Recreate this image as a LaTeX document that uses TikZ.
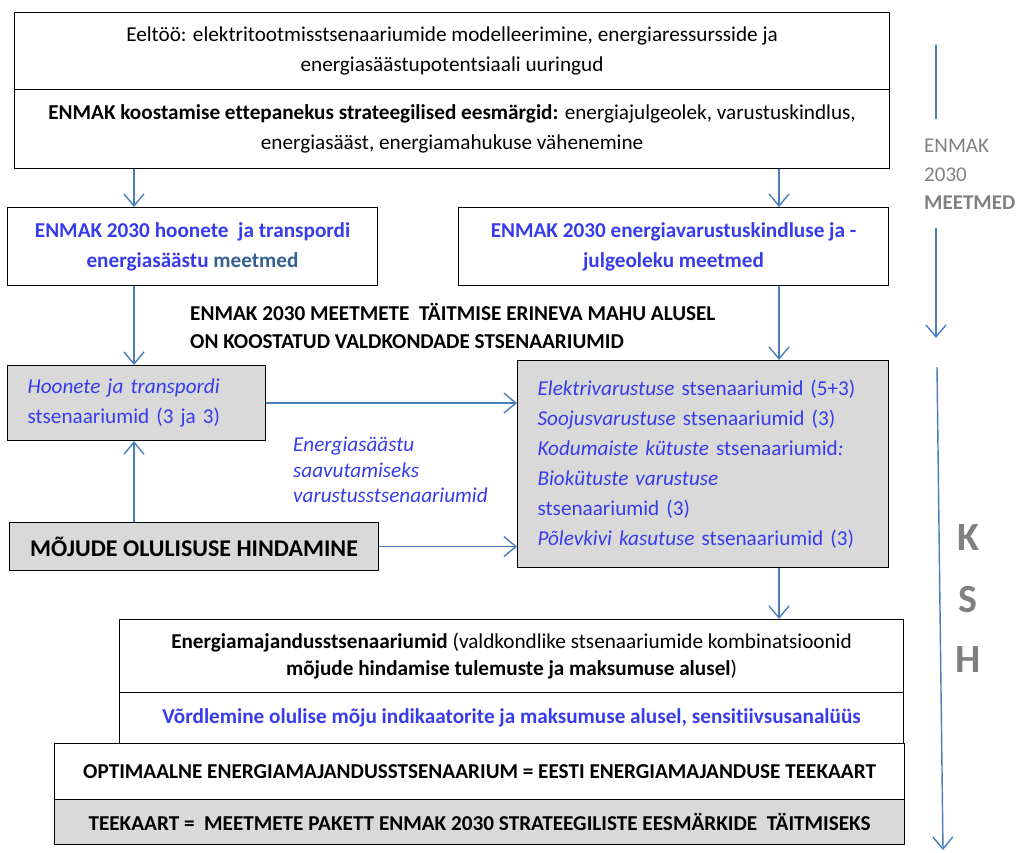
\documentclass[tikz,border=0pt]{standalone}
\usepackage{fontspec}
\setmainfont{Carlito}[Ligatures=NoCommon]
\usetikzlibrary{positioning}
\usetikzlibrary{arrows.meta}

\definecolor{txtblue}{RGB}{55,60,235}
\definecolor{steel}{RGB}{54,95,145}
\definecolor{arrowblue}{RGB}{74,126,187}
\definecolor{boxgrey}{RGB}{217,217,217}
\definecolor{txtgrey}{RGB}{128,128,128}

\newcommand{\bodysize}{\fontsize{21.2}{30}\selectfont}

\tikzset{
  box/.style={draw, line width=1.1pt, inner sep=0pt, anchor=north west, align=center, font=\bodysize},
  greybox/.style={box, fill=boxgrey},
  arr/.style={-{Straight Barb[length=12pt,width=20pt]}, line width=1.4pt, color=arrowblue},
  blueline/.style={-, line width=1.4pt, color=arrowblue},
  kshletter/.style={text=txtgrey, font=\fontsize{40}{40}\selectfont\bfseries, inner sep=0pt}
}

\begin{document}
\begin{tikzpicture}[x=1pt,y=-1pt]
\useasboundingbox (0,0) rectangle (1018,852);

\coordinate (lcol) at (134,0);
\coordinate (rcol) at (779,0);

\node[box, minimum width=875pt, minimum height=77pt] (prep) at (14,12) {Eeltöö: elektritootmisstsenaariumide modelleerimine, energiaressursside ja\\energiasäästupotentsiaali uuringud};
\node[box, minimum width=875pt, minimum height=79pt] (goals) at (14,89) {\textbf{ENMAK koostamise ettepanekus strateegilised eesmärgid:} energiajulgeolek, varustuskindlus,\\energiasääst, energiamahukuse vähenemine};

\node[box, minimum width=370pt, minimum height=78pt, text=txtblue, font=\bodysize\bfseries] (saveM) at (7,207) {ENMAK 2030 hoonete\ \ ja transpordi\\energiasäästu \textcolor{steel}{meetmed}};
\node[box, minimum width=430pt, minimum height=78pt, text=txtblue, font=\bodysize\bfseries] (supplyM) at (458,207) {ENMAK 2030 energiavarustuskindluse ja -\\julgeoleku meetmed};

\node[anchor=west, align=left, inner sep=0pt, font=\fontsize{21.2}{28}\selectfont\bfseries] (basis) at (190,326) {ENMAK 2030 MEETMETE\ \ TÄITMISE ERINEVA MAHU ALUSEL\\ON KOOSTATUD VALDKONDADE STSENAARIUMID};

\node[greybox, minimum height=75pt, text width=218pt, inner xsep=20pt, align=left, text=txtblue] (saveS) at (7,365) {\textit{Hoonete ja transpordi}\\stsenaariumid (3 ja 3)};
\node[greybox, minimum height=207pt, text width=331pt, inner xsep=20pt, align=left, text=txtblue] (supplyS) at (517,360) {\textit{Elektrivarustuse} stsenaariumid (5+3)\\\textit{Soojusvarustuse} stsenaariumid (3)\\\textit{Kodumaiste kütuste} stsenaariumid\textit{:}\\\textit{Biokütuste varustuse}\\stsenaariumid (3)\\\textit{Põlevkivi kasutuse} stsenaariumid (3)};

\node[anchor=west, align=left, inner sep=0pt, text=txtblue, font=\fontsize{21.2}{25.5}\selectfont\itshape] (viaText) at (293,470) {Energiasäästu\\saavutamiseks\\varustusstsenaariumid};

\node[greybox, minimum width=369pt, minimum height=48pt, font=\fontsize{24}{26}\selectfont\bfseries] (impact) at (9,522) {MÕJUDE OLULISUSE HINDAMINE};

\node[box, minimum width=784pt, minimum height=73pt, font=\fontsize{21.2}{27}\selectfont] (ecoS) at (119,619) {\textbf{Energiamajandusstsenaariumid} (valdkondlike stsenaariumide kombinatsioonid\\\textbf{mõjude hindamise tulemuste ja maksumuse alusel})};
\node[box, minimum width=784pt, minimum height=51pt, text=txtblue, font=\bodysize\bfseries] (compare) at (119,692) {Võrdlemine olulise mõju indikaatorite ja maksumuse alusel, sensitiivsusanalüüs};
\node[box, minimum width=850pt, minimum height=56pt, font=\bodysize\bfseries] (optimal) at (54,743) {OPTIMAALNE ENERGIAMAJANDUSSTSENAARIUM = EESTI ENERGIAMAJANDUSE TEEKAART};
\node[greybox, minimum width=850pt, minimum height=45pt, font=\bodysize\bfseries] (roadmap) at (54,799) {TEEKAART =\ \ MEETMETE PAKETT ENMAK 2030 STRATEEGILISTE EESMÄRKIDE\ \ TÄITMISEKS};

\draw[arr] (goals.south -| lcol) -- (saveM.north -| lcol);
\draw[arr] (goals.south -| rcol) -- (supplyM.north -| rcol);
\draw[arr] (saveM.south -| lcol) -- (saveS.north -| lcol);
\draw[arr] (supplyM.south -| rcol) -- (supplyS.north -| rcol);
\draw[arr] (saveS.east) -- (saveS.east -| supplyS.west);
\draw[arr] (impact.north -| lcol) -- (saveS.south -| lcol);
\draw[arr] (impact.east) -- (impact.east -| supplyS.west);
\draw[arr] (supplyS.south -| rcol) -- (ecoS.north -| rcol);

\coordinate (mTop) at (936,45);
\coordinate (mMid) at (936,119);
\draw[blueline] (mTop) -- (mMid);
\node[anchor=west, align=left, inner sep=0pt, text=txtgrey, font=\fontsize{21}{28.5}\selectfont] (measLbl) at (924,174.5) {ENMAK\\2030\\\textbf{MEETMED}};
\coordinate (mA) at (936,228);
\coordinate (mB) at (936,338);
\draw[arr] (mA) -- (mB);

\coordinate (kA) at (937,367);
\coordinate (kB) at (943,850);
\draw[arr] (kA) -- (kB);
\node[kshletter] (kLet) at (968,538) {K};
\node[kshletter] (sLet) at (968,600) {S};
\node[kshletter] (hLet) at (968,660) {H};
\end{tikzpicture}
\end{document}
